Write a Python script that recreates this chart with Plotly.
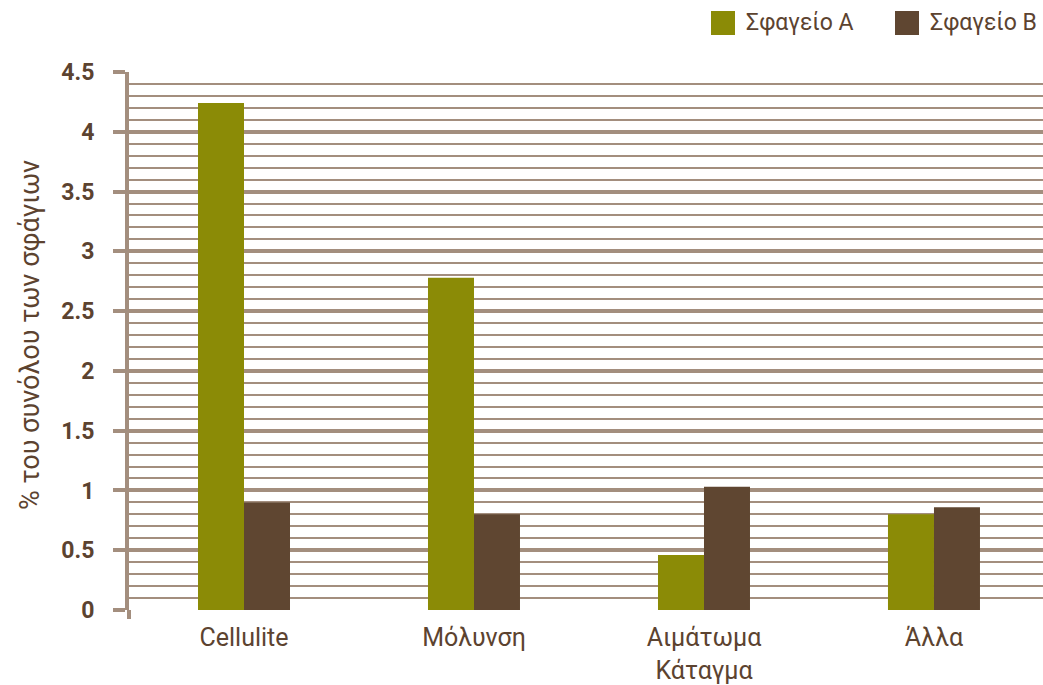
import plotly.graph_objects as go

categories = ["Cellulite", "Μόλυνση", "Αιμάτωμα<br>Κάταγμα", "Άλλα"]
series_a = [4.24, 2.78, 0.46, 0.80]
series_b = [0.90, 0.80, 1.03, 0.86]
names = ["Σφαγείο A", "Σφαγείο B"]
colors = ["#8b8b06", "#5f4631"]
y_ticks = [0, 0.5, 1, 1.5, 2, 2.5, 3, 3.5, 4, 4.5]
y_tick_labels = ["0", "0.5", "1", "1.5", "2", "2.5", "3", "3.5", "4", "4.5"]
y_title = "% του συνόλου των σφάγιων"

text_color = "#5c4330"
grid_color = "#a38e7e"

W, H = 1043, 685
ML, MR, MT, MB = 129, 0, 72, 75
PW, PH = W - ML - MR, H - MT - MB


def px_x(px):
    return (px - ML) / PW


def px_y(py):
    return (H - MB - py) / PH


fig = go.Figure()
fig.add_trace(go.Bar(x=categories, y=series_a, name=names[0], marker_color=colors[0],
                     marker_line_width=0))
fig.add_trace(go.Bar(x=categories, y=series_b, name=names[1], marker_color=colors[1],
                     marker_line_width=0))

fig.update_layout(
    width=W, height=H,
    margin=dict(l=ML, r=MR, t=MT, b=MB, autoexpand=False),
    paper_bgcolor="white", plot_bgcolor="white",
    barmode="group", bargap=0.6, bargroupgap=0,
    font=dict(family="Roboto", color=text_color),
    showlegend=False,
)
fig.update_xaxes(range=[-0.5, 3.474], showgrid=False, showline=False, ticks="",
                 ticklabelstandoff=10,
                 tickfont=dict(size=25, color=text_color), automargin=False, fixedrange=True)
fig.update_yaxes(range=[0, 4.5], tickvals=y_ticks, ticktext=y_tick_labels,
                 showgrid=True, gridcolor=grid_color, gridwidth=4,
                 zeroline=False, automargin=False,
                 showline=True, linecolor=grid_color, linewidth=4,
                 ticks="outside", ticklen=12, tickwidth=4, tickcolor=grid_color,
                 ticklabelstandoff=14,
                 tickfont=dict(size=23, color=text_color, family="Roboto", weight="bold"),
                 minor=dict(dtick=0.1, showgrid=True, gridcolor=grid_color, gridwidth=2, ticks=""))

# y-axis title
fig.add_annotation(text=y_title, xref="paper", yref="paper", x=px_x(30), y=px_y(335),
                   xanchor="center", yanchor="middle", textangle=-90, showarrow=False,
                   font=dict(size=27, color=text_color, family="Roboto"))

# axis line extension below zero
fig.add_shape(type="line", xref="paper", yref="paper", x0=0, x1=0, y0=px_y(619), y1=0,
              line=dict(color=grid_color, width=4))

# legend (manual, to match large square swatches)
legend_items = [(711, names[0], colors[0]), (895, names[1], colors[1])]
for sx, name, col in legend_items:
    fig.add_shape(type="rect", xref="paper", yref="paper",
                  x0=px_x(sx), x1=px_x(sx + 24), y0=px_y(35), y1=px_y(11),
                  fillcolor=col, line=dict(width=0))
    fig.add_annotation(text=name, xref="paper", yref="paper", x=px_x(sx + 33), y=px_y(23),
                       xanchor="left", yanchor="middle", showarrow=False,
                       font=dict(size=23, color=text_color, family="Roboto"))

fig.write_html("out.html", config={"displayModeBar": False},
               post_script="document.body.style.margin='0';")
